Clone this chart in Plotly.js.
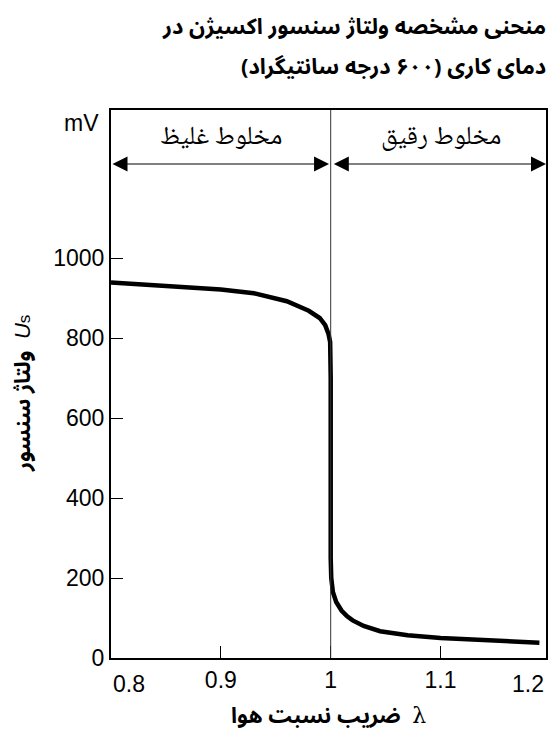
<!DOCTYPE html>
<html>
<head>
<meta charset="utf-8">
<script src="https://cdn.plot.ly/plotly-3.0.1.min.js"></script>
<style>html,body{margin:0;padding:0;background:#fff;}#chart{width:554px;height:739px;}</style>
</head>
<body>
<div id="chart"></div>
<script>
// Air ratio lambda and sensor voltage (mV)
const lambdaVals = [0.80, 0.85, 0.90, 0.93, 0.96, 0.98, 0.99, 0.995, 0.998, 0.9995, 1.0, 1.0, 1.0005, 1.002, 1.005, 1.01, 1.015, 1.02, 1.03, 1.045, 1.07, 1.10, 1.15, 1.19];
const voltageVals = [939, 931, 921, 912, 892, 868, 850, 832, 810, 790, 700, 250, 200, 165, 140, 118, 104, 94, 80, 67, 57, 50, 44, 38];

const xTickVals = [0.8, 0.9, 1, 1.1, 1.2];
const xTickText = ['0.8', '0.9', '1', '1.1', '1.2'];
const yTickVals = [0, 200, 400, 600, 800, 1000];
const yTickText = ['0', '200', '400', '600', '800', '1000'];

const regionLabels = ['مخلوط غلیظ', 'مخلوط رقیق'];
const regionCenters = [0.9, 1.1];
const regionLabelY = 1300;
const arrowY = 1235;

const titleLines = ['منحنی مشخصه ولتاژ سنسور اکسیژن در', 'دمای کاری (۶۰۰ درجه سانتیگراد)'];
const xTitle = 'ضریب نسبت هوا  <span style="font-weight:normal;font-family:DejaVu Serif">λ</span>';
const yTitle = 'ولتاژ سنسور  <i><span style="font-family:Liberation Sans;font-weight:normal">U</span></i><span style="font-family:Liberation Sans;font-weight:normal;font-size:17px">s</span>';
const unitLabel = 'mV';

const xRange = [0.8, 1.196];
const yRange = [0, 1370];

const persianBold = '"Noto Sans Arabic", "Noto Naskh Arabic", "DejaVu Sans"';
const persianText = '"Noto Naskh Arabic", "Noto Sans Arabic", "DejaVu Sans"';
const latin = 'Liberation Sans';

const trace = {
  x: lambdaVals, y: voltageVals, type: 'scatter', mode: 'lines',
  line: {color: '#000', width: 4.5, shape: 'linear'},
  hoverinfo: 'skip'
};

const annotations = [];
annotations.push({xref: 'x', yref: 'paper', x: xTickVals[0], y: 0, text: xTickText[0], showarrow: false,
  xanchor: 'left', yanchor: 'top', yshift: -11, font: {family: latin, size: 23, color: '#000'}});
annotations.push({xref: 'x', yref: 'paper', x: xRange[1], y: 0, text: xTickText[4], showarrow: false,
  xanchor: 'right', yanchor: 'top', yshift: -11, font: {family: latin, size: 23, color: '#000'}});
annotations.push({xref: 'paper', yref: 'paper', x: 0, y: 1, text: unitLabel, showarrow: false,
  xanchor: 'right', yanchor: 'top', xshift: -10, yshift: 2, font: {family: latin, size: 23, color: '#000'}});
for (let i = 0; i < regionLabels.length; i++) {
  annotations.push({xref: 'x', yref: 'y', x: regionCenters[i], y: regionLabelY, text: regionLabels[i], showarrow: false,
    xanchor: 'center', yanchor: 'middle', font: {family: persianText, size: 26, color: '#000'}});
}
const arrowSpans = [[xRange[0], 0.9985], [1.0015, xRange[1]]];
arrowSpans.forEach(s => {
  annotations.push({xref: 'x', yref: 'y', axref: 'x', ayref: 'y', x: s[1], y: arrowY, ax: s[0], ay: arrowY,
    text: '', showarrow: true, arrowhead: 2, startarrowhead: 2, arrowside: 'end+start',
    arrowsize: 3, startarrowsize: 3, arrowwidth: 1, arrowcolor: '#000', standoff: 0, startstandoff: 0});
});
// title, one annotation per line
const titleYs = [1.152, 1.079];
titleLines.forEach((t, i) => {
  annotations.push({xref: 'paper', yref: 'paper', x: 1, y: titleYs[i], text: t, showarrow: false,
    xanchor: 'right', yanchor: 'middle', xshift: 2,
    font: {family: persianBold, size: 22, color: '#000', weight: 'bold'}});
});
annotations.push({xref: 'paper', yref: 'paper', x: 0.5, y: 0, text: xTitle, showarrow: false,
  xanchor: 'center', yanchor: 'middle', yshift: -58, font: {family: persianBold, size: 22, color: '#000', weight: 'bold'}});
annotations.push({xref: 'paper', yref: 'y', x: 0, y: 660, text: yTitle, showarrow: false, textangle: -90,
  xanchor: 'center', yanchor: 'middle', xshift: -88, font: {family: persianBold, size: 22, color: '#000', weight: 'bold'}});

const layout = {
  width: 554, height: 739,
  margin: {l: 111, r: 8, t: 110, b: 81},
  paper_bgcolor: '#fff', plot_bgcolor: '#fff',
  showlegend: false,
  xaxis: {
    range: xRange, tickmode: 'array', tickvals: xTickVals.slice(1, 4), ticktext: xTickText.slice(1, 4),
    ticks: 'inside', ticklen: 12, tickwidth: 1, tickcolor: '#000',
    showline: true, linecolor: '#000', linewidth: 2, mirror: true,
    showgrid: false, zeroline: false, fixedrange: true,
    tickfont: {family: latin, size: 23, color: '#000'}
  },
  yaxis: {
    range: yRange, tickmode: 'array', tickvals: yTickVals, ticktext: yTickText,
    ticks: 'inside', ticklen: 12, tickwidth: 1, tickcolor: '#000',
    showline: true, linecolor: '#000', linewidth: 2, mirror: true,
    showgrid: false, zeroline: false, fixedrange: true,
    tickfont: {family: latin, size: 23, color: '#000'}
  },
  shapes: [{type: 'line', xref: 'x', yref: 'paper', x0: 1, x1: 1, y0: 0, y1: 1, line: {color: '#333', width: 1}}],
  annotations: annotations
};

Plotly.newPlot('chart', [trace], layout, {displayModeBar: false, staticPlot: true});
</script>
</body>
</html>
